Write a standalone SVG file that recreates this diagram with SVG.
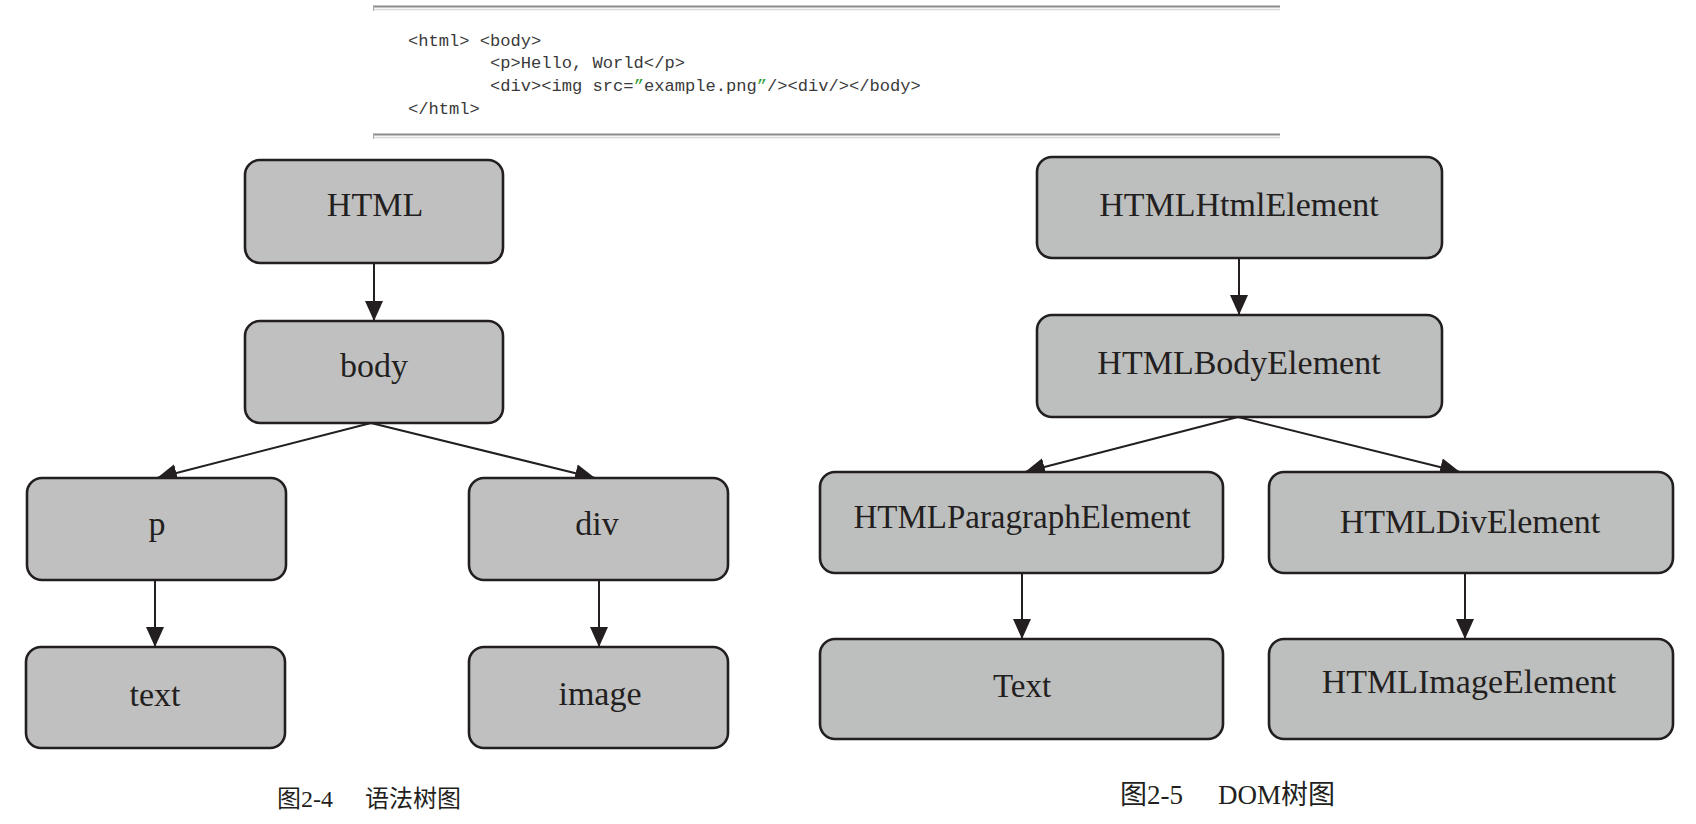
<svg xmlns="http://www.w3.org/2000/svg" width="1696" height="824" viewBox="0 0 1696 824">
<defs>
<style>
.box{fill:#c0c0c0;stroke:#231f20;stroke-width:2.6}
.boxr{fill:#bdbebe;stroke:#231f20;stroke-width:2.6}
.lbl{font-family:"Liberation Serif","Times New Roman",serif;font-size:34px;fill:#231f20;text-anchor:middle}
.code{font-family:"Liberation Mono","Courier New",monospace;font-size:17.1px;fill:#3a3a3a}
.q{fill:#2e9e2e}
.cap{font-family:"Liberation Serif","Noto Sans CJK SC",serif;fill:#231f20}
.edge{stroke:#231f20;stroke-width:2;fill:none;marker-end:url(#ah)}
</style>
<marker id="ah" markerUnits="userSpaceOnUse" markerWidth="22" markerHeight="20" refX="20" refY="9" orient="auto">
<path d="M0,0 L20,9 L0,18 z" fill="#231f20"/>
</marker>
</defs>
<rect width="1696" height="824" fill="#fff"/>

<g id="code-block">
<line x1="373" y1="6.5" x2="1280" y2="6.5" stroke="#8a8a8a" stroke-width="2"/>
<line x1="373" y1="9.5" x2="1280" y2="9.5" stroke="#d8d8d8" stroke-width="1.5"/>
<line x1="373.5" y1="6" x2="373.5" y2="11" stroke="#aaa" stroke-width="1"/>
<text class="code" x="408" y="46">&lt;html&gt; &lt;body&gt;</text>
<text class="code" x="490" y="68">&lt;p&gt;Hello, World&lt;/p&gt;</text>
<text class="code" x="490" y="90.5">&lt;div&gt;&lt;img src=<tspan class="q">”</tspan>example.png<tspan class="q">”</tspan>/&gt;&lt;div/&gt;&lt;/body&gt;</text>
<text class="code" x="408" y="113.5">&lt;/html&gt;</text>
<line x1="373" y1="134.5" x2="1280" y2="134.5" stroke="#8a8a8a" stroke-width="2"/>
<line x1="373" y1="137.5" x2="1280" y2="137.5" stroke="#d8d8d8" stroke-width="1.5"/>
<line x1="373.5" y1="134" x2="373.5" y2="139" stroke="#aaa" stroke-width="1"/>
</g>

<g id="connectors">
<line class="edge" x1="374" y1="263" x2="374" y2="321"/>
<line class="edge" x1="371" y1="423" x2="157" y2="478"/>
<line class="edge" x1="371" y1="423" x2="595" y2="478"/>
<line class="edge" x1="155" y1="580" x2="155" y2="647"/>
<line class="edge" x1="599" y1="580" x2="599" y2="647"/>
<line class="edge" x1="1239" y1="258" x2="1239" y2="315"/>
<line class="edge" x1="1238" y1="417" x2="1025" y2="472"/>
<line class="edge" x1="1238" y1="417" x2="1460" y2="472"/>
<line class="edge" x1="1022" y1="573" x2="1022" y2="639"/>
<line class="edge" x1="1465" y1="573" x2="1465" y2="639"/>
</g>

<g id="n-html"><rect class="box" x="245" y="160" width="258" height="103" rx="15"/><text class="lbl" x="375" y="216">HTML</text></g>
<g id="n-body"><rect class="box" x="245" y="321" width="258" height="102" rx="15"/><text class="lbl" x="374" y="377">body</text></g>
<g id="n-p"><rect class="box" x="27" y="478" width="259" height="102" rx="15"/><text class="lbl" x="157" y="535">p</text></g>
<g id="n-div"><rect class="box" x="469" y="478" width="259" height="102" rx="15"/><text class="lbl" x="597" y="535">div</text></g>
<g id="n-text"><rect class="box" x="26" y="647" width="259" height="101" rx="15"/><text class="lbl" x="155" y="706">text</text></g>
<g id="n-image"><rect class="box" x="469" y="647" width="259" height="101" rx="15"/><text class="lbl" x="600" y="705">image</text></g>

<g id="n-htmlhtml"><rect class="boxr" x="1037" y="157" width="405" height="101" rx="15"/><text class="lbl" x="1239" y="216">HTMLHtmlElement</text></g>
<g id="n-htmlbody"><rect class="boxr" x="1037" y="315" width="405" height="102" rx="15"/><text class="lbl" x="1239" y="374">HTMLBodyElement</text></g>
<g id="n-htmlp"><rect class="boxr" x="820" y="472" width="403" height="101" rx="15"/><text class="lbl" x="1022" y="528" style="font-size:33px">HTMLParagraphElement</text></g>
<g id="n-htmldiv"><rect class="boxr" x="1269" y="472" width="404" height="101" rx="15"/><text class="lbl" x="1470" y="533">HTMLDivElement</text></g>
<g id="n-textnode"><rect class="boxr" x="820" y="639" width="403" height="100" rx="15"/><text class="lbl" x="1022" y="697" style="font-size:33px">Text</text></g>
<g id="n-htmlimg"><rect class="boxr" x="1269" y="639" width="404" height="100" rx="15"/><text class="lbl" x="1469" y="693">HTMLImageElement</text></g>

<g id="captions">
<text class="cap" y="807" style="font-size:24px"><tspan x="277">图2-4</tspan><tspan x="365">语法树图</tspan></text>
<text class="cap" y="804" style="font-size:27px"><tspan x="1120">图2-5</tspan><tspan x="1218">DOM树图</tspan></text>
</g>
</svg>
